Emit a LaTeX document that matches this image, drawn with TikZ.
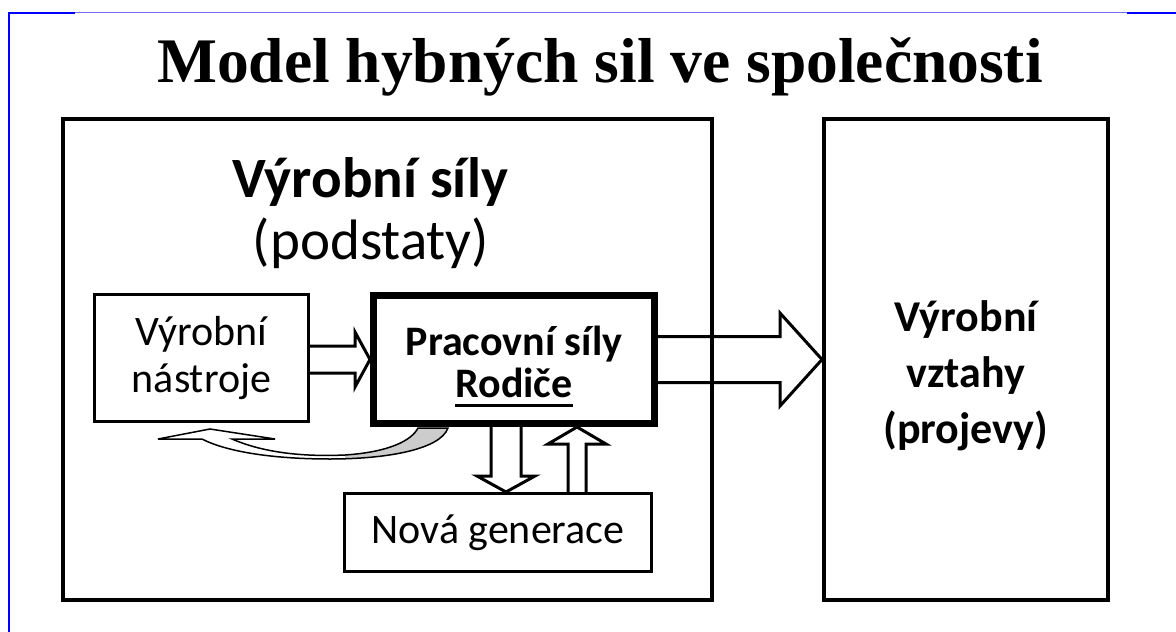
\documentclass[tikz,border=0pt]{standalone}
\usepackage{fontspec}
\setmainfont{Carlito}
\newfontfamily\titlefont{Liberation Serif}
\usetikzlibrary{calc}
\definecolor{ramec}{RGB}{112,112,240}
\definecolor{seda}{RGB}{204,204,204}
\newcommand{\podtrh}[1]{\setbox0\hbox{#1}\rlap{\rule[-10pt]{\wd0}{3pt}}\box0}
\newcommand{\zpetobrys}{(158,439) -- (210,429) -- (275,439) -- (232,439) .. controls (262,452) and (300,457) .. (345,455) .. controls (390,452) and (412,440) .. (418,428) -- (448,428) .. controls (440,450) and (385,459) .. (330,459) .. controls (270,459) and (225,451) .. (202,439) -- cycle}
\tikzset{
  box/.style={draw, line width=3pt, inner sep=0pt, align=center},
  hollow/.style n args={3}{line width=3pt, line join=miter,
    to path={
      ($(\tikztotarget)!#3!(\tikztostart)$) coordinate (hb)
      ($(\tikztostart)!#1!90:(\tikztotarget)$)
      -- ($(hb)!#1!90:(\tikztotarget)$)
      -- ($(hb)!#2!90:(\tikztotarget)$)
      -- (\tikztotarget)
      -- ($(hb)!#2!-90:(\tikztotarget)$)
      -- ($(hb)!#1!-90:(\tikztotarget)$)
      -- ($(\tikztostart)!#1!-90:(\tikztotarget)$)
    }},
}
\begin{document}
\begin{tikzpicture}[x=1pt,y=-1pt,line join=miter]
\useasboundingbox (0,0) rectangle (1176,632);
\draw[line width=1pt, ramec] (75,12.5) -- (1127,12.5);
\draw[line width=2pt, blue] (8,12.5) -- (75,12.5);
\draw[line width=2pt, blue] (1127,12.5) -- (1176,12.5);
\draw[line width=2pt, blue] (9,12) -- (9,632);
\node[anchor=base, font=\titlefont\bfseries\fontsize{63.5}{70}\selectfont] (nadpis) at (600,82) {Model hybných sil ve společnosti};
\node[box, line width=4pt, minimum width=649pt, minimum height=481pt] (sily) at (387.5,359.5) {};
\node[box, line width=4pt, minimum width=284pt, minimum height=481pt] (vztahy) at (966,359.5) {};
\node[align=center, font=\bfseries\fontsize{44}{56}\selectfont] (vztahytext) at (966,375.5) {Výrobní\\vztahy\\(projevy)};
\node[anchor=base, font=\bfseries\fontsize{57}{60}\selectfont] (silynadpis) at (370,197) {Výrobní síly};
\node[anchor=base, font=\fontsize{57}{60}\selectfont] (podstaty) at (371,259) {(podstaty)};
\node[box, minimum width=214pt, minimum height=127pt, font=\fontsize{42}{47}\selectfont] (nastroje) at (201.5,358) {Výrobní\\nástroje};
\node[box, line width=7pt, minimum width=281pt, minimum height=128pt] (pracovni) at (514,359.5) {};
\node[align=center, font=\bfseries\fontsize{42}{42}\selectfont] (pracovnitext) at (514,366.5) {Pracovní síly\\\podtrh{Rodiče}};
\node[box, minimum width=307pt, minimum height=78pt, font=\fontsize{42}{47}\selectfont] (nova) at (498,532.5) {Nová generace};
\coordinate (dolu) at (506,0);
\coordinate (nahoru) at (577,0);
\draw[hollow={13.5pt}{27.5pt}{15pt}] (nastroje.east |- pracovni.west) to (pracovni.west);
\draw[hollow={23pt}{46.5pt}{42pt}] (pracovni.east) to (pracovni.east -| vztahy.west);
\draw[hollow={15pt}{29pt}{16pt}] (pracovni.south -| dolu) to (nova.north -| dolu);
\draw[hollow={9pt}{29pt}{17pt}] (nova.north -| nahoru) to (pracovni.south -| nahoru);
\fill[white] \zpetobrys;
\begin{scope}
\clip \zpetobrys;
\fill[seda] (345,420) rectangle (460,470);
\end{scope}
\draw[line width=1.5pt] \zpetobrys;
\end{tikzpicture}
\end{document}
